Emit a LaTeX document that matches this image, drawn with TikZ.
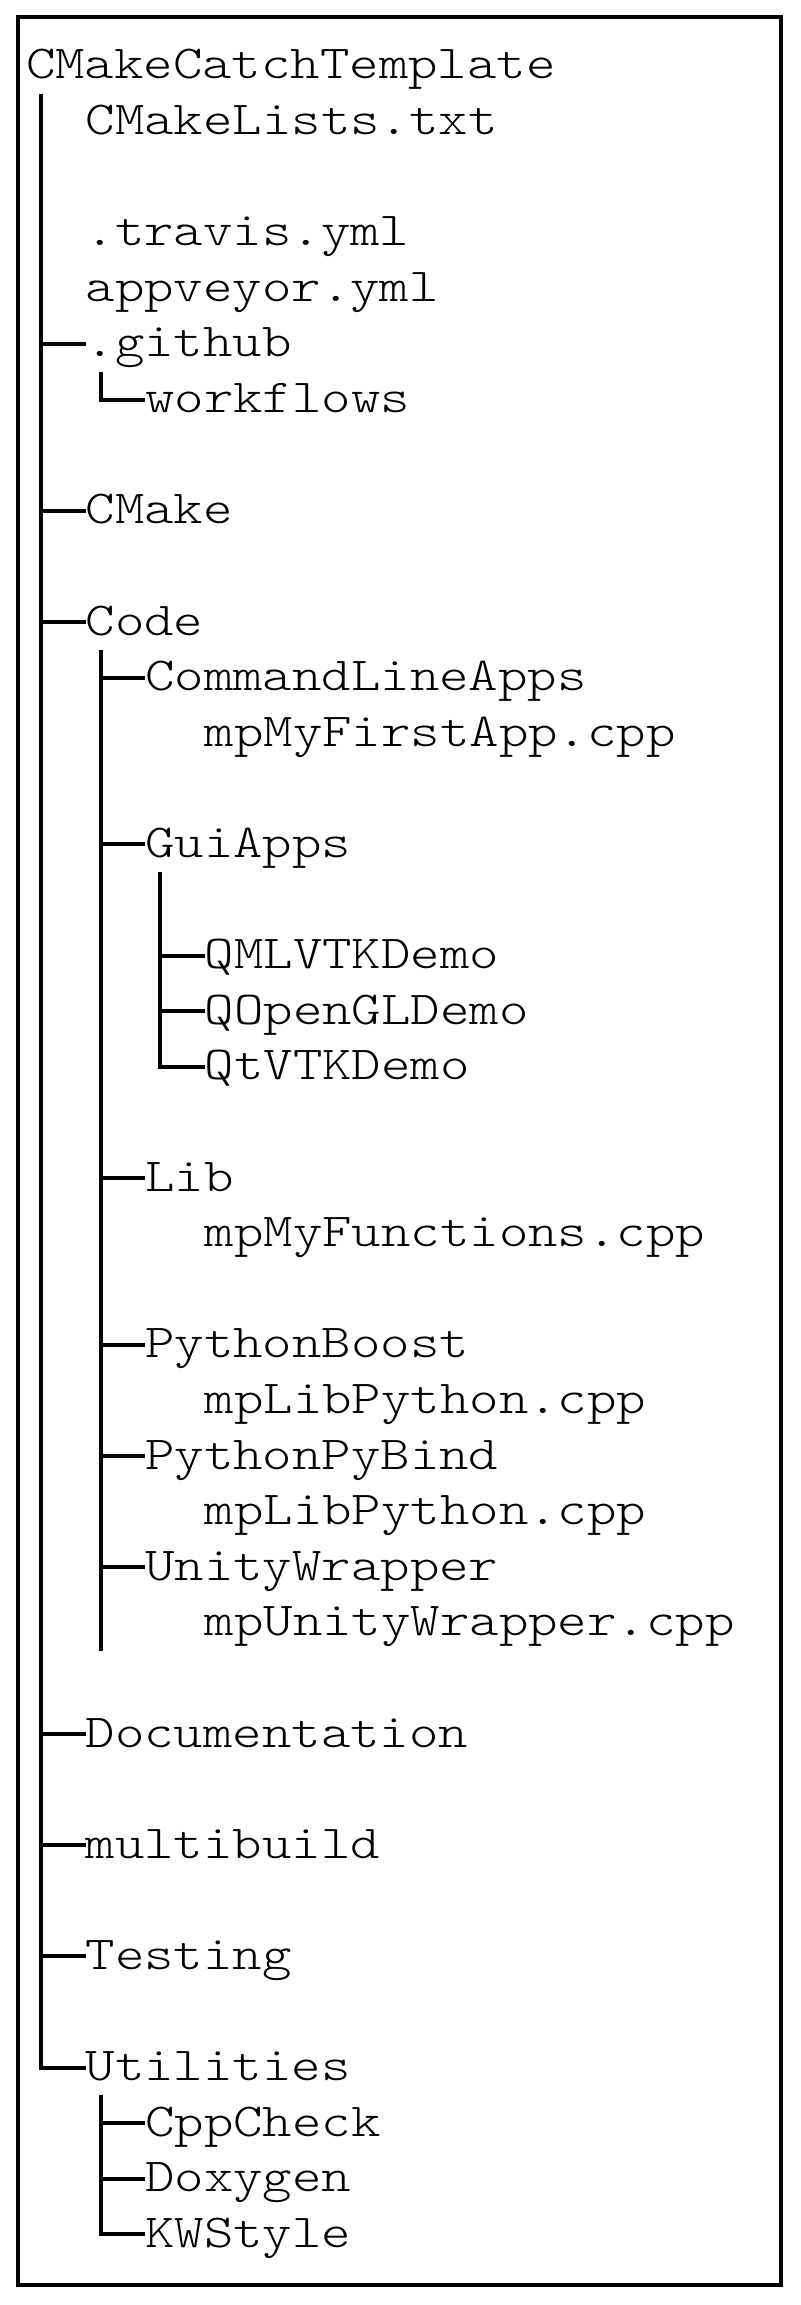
\documentclass[tikz,border=0pt]{standalone}
\usepackage{fontspec}
\newfontfamily\treemono[Extension=.otf,FakeStretch=1.185]{lmmonolt10-regular}
\usetikzlibrary{calc}
\begin{document}
\begin{tikzpicture}[x=0.5pt,y=-0.5pt,
  entry/.style={anchor=base west,inner sep=0pt,outer sep=0pt,font=\treemono\fontsize{23.65}{28}\selectfont},
  tree/.style={line width=2pt,line join=miter,line cap=butt},
  frame/.style={line width=2pt}]
\useasboundingbox (0,0) rectangle (800,2305);
\draw[frame] (18,17) rectangle (781,2285);
% entries
\node[entry] (root) at (26,79.0) {CMakeCatchTemplate};
\node[entry] (cml)  at (85.6,134.6) {CMakeLists.txt};
\node[entry] (trav) at (85.6,245.8) {.travis.yml};
\node[entry] (appv) at (85.6,301.4) {appveyor.yml};
\node[entry] (gh)   at (85.6,357.0) {.github};
\node[entry] (wf)   at (145.2,412.6) {workflows};
\node[entry] (cm)   at (85.6,523.8) {CMake};
\node[entry] (code) at (85.6,635.0) {Code};
\node[entry] (cla)  at (145.2,690.6) {CommandLineApps};
\node[entry] (mfa)  at (204.8,746.2) {mpMyFirstApp.cpp};
\node[entry] (gui)  at (145.2,857.4) {GuiApps};
\node[entry] (qml)  at (204.8,968.6) {QMLVTKDemo};
\node[entry] (qgl)  at (204.8,1024.2) {QOpenGLDemo};
\node[entry] (qvtk) at (204.8,1079.8) {QtVTKDemo};
\node[entry] (lib)  at (145.2,1191.0) {Lib};
\node[entry] (mfn)  at (204.8,1246.6) {mpMyFunctions.cpp};
\node[entry] (pb)   at (145.2,1357.8) {PythonBoost};
\node[entry] (lpb)  at (204.8,1413.4) {mpLibPython.cpp};
\node[entry] (ppb)  at (145.2,1469.0) {PythonPyBind};
\node[entry] (lpp)  at (204.8,1524.6) {mpLibPython.cpp};
\node[entry] (uw)   at (145.2,1580.2) {UnityWrapper};
\node[entry] (muw)  at (204.8,1635.8) {mpUnityWrapper.cpp};
\node[entry] (doc)  at (85.6,1747.0) {Documentation};
\node[entry] (mb)   at (85.6,1858.2) {multibuild};
\node[entry] (test) at (85.6,1969.4) {Testing};
\node[entry] (util) at (85.6,2080.6) {Utilities};
\node[entry] (cpp)  at (145.2,2136.2) {CppCheck};
\node[entry] (dox)  at (145.2,2191.8) {Doxygen};
\node[entry] (kw)   at (145.2,2247.4) {KWStyle};
% trunk tops
\coordinate (t1) at (40.9,93.6);
\coordinate (tgh) at (100.5,371.6);
\coordinate (tcode) at (100.5,649.6);
\coordinate (ecode) at (100.5,1650.8);
\coordinate (tgui) at (160.1,872.0);
\coordinate (tutil) at (100.5,2095.2);
% vertical trunks ending in a corner
\draw[tree] (t1) |- ($(util.base west)+(0,-13)$);
\draw[tree] (tgh) |- ($(wf.base west)+(0,-13)$);
\draw[tree] (tgui) |- ($(qvtk.base west)+(0,-13)$);
\draw[tree] (tutil) |- ($(kw.base west)+(0,-13)$);
\draw[tree] (tcode) -- (ecode);
% branch arms
\foreach \n in {gh,cm,code,doc,mb,test,cla,gui,lib,pb,ppb,uw,qml,qgl,cpp,dox}
  \draw[tree] ($(\n.base west)+(-44.7,-13)$) -- ($(\n.base west)+(0,-13)$);
\end{tikzpicture}
\end{document}
